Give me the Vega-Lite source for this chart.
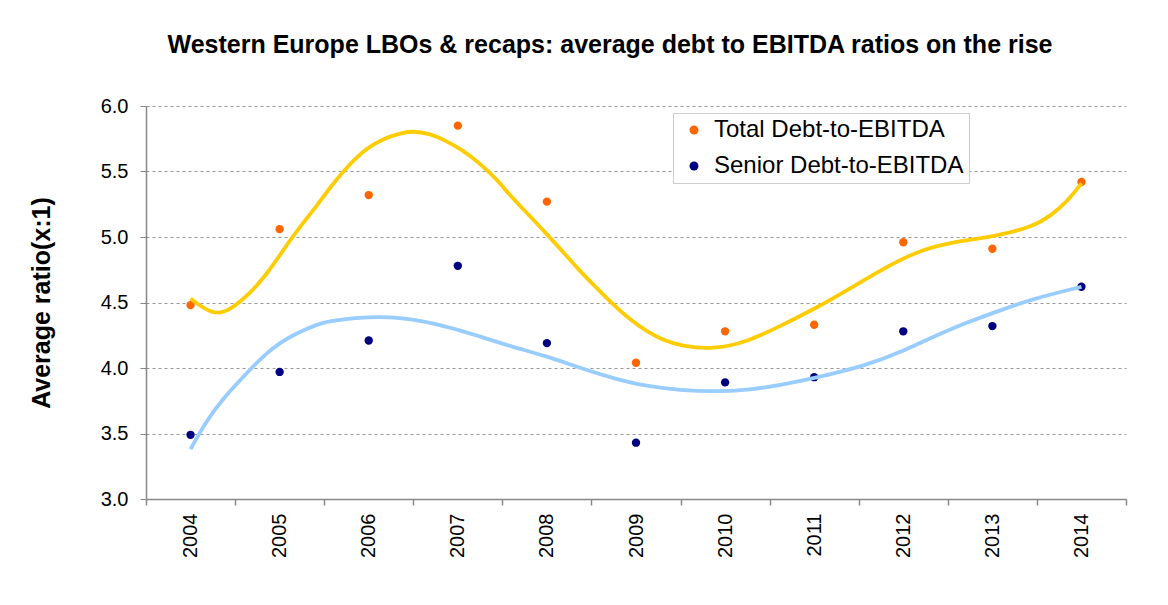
{
  "$schema": "https://vega.github.io/schema/vega-lite/v6.json",
  "autosize": {"type": "none"},
  "width": 980,
  "height": 393,
  "padding": {"left": 146, "top": 106, "right": 42, "bottom": 106},
  "background": "white",
  "config": {
    "view": {"stroke": null},
    "font": "Liberation Sans"
  },
  "title": {
    "text": "Western Europe LBOs & recaps: average debt to EBITDA ratios on the rise",
    "font": "Liberation Sans",
    "fontSize": 25,
    "fontWeight": "bold",
    "color": "#000000",
    "anchor": "middle",
    "dx": -26,
    "baseline": "alphabetic",
    "offset": 18
  },
  "datasets": {
    "points": [
      {"year": 2004, "series": "Total Debt-to-EBITDA", "value": 4.48},
      {"year": 2005, "series": "Total Debt-to-EBITDA", "value": 5.06},
      {"year": 2006, "series": "Total Debt-to-EBITDA", "value": 5.32},
      {"year": 2007, "series": "Total Debt-to-EBITDA", "value": 5.85},
      {"year": 2008, "series": "Total Debt-to-EBITDA", "value": 5.27},
      {"year": 2009, "series": "Total Debt-to-EBITDA", "value": 4.04},
      {"year": 2010, "series": "Total Debt-to-EBITDA", "value": 4.28},
      {"year": 2011, "series": "Total Debt-to-EBITDA", "value": 4.33},
      {"year": 2012, "series": "Total Debt-to-EBITDA", "value": 4.96},
      {"year": 2013, "series": "Total Debt-to-EBITDA", "value": 4.91},
      {"year": 2014, "series": "Total Debt-to-EBITDA", "value": 5.42},
      {"year": 2004, "series": "Senior Debt-to-EBITDA", "value": 3.49},
      {"year": 2005, "series": "Senior Debt-to-EBITDA", "value": 3.97},
      {"year": 2006, "series": "Senior Debt-to-EBITDA", "value": 4.21},
      {"year": 2007, "series": "Senior Debt-to-EBITDA", "value": 4.78},
      {"year": 2008, "series": "Senior Debt-to-EBITDA", "value": 4.19},
      {"year": 2009, "series": "Senior Debt-to-EBITDA", "value": 3.43},
      {"year": 2010, "series": "Senior Debt-to-EBITDA", "value": 3.89},
      {"year": 2011, "series": "Senior Debt-to-EBITDA", "value": 3.93},
      {"year": 2012, "series": "Senior Debt-to-EBITDA", "value": 4.28},
      {"year": 2013, "series": "Senior Debt-to-EBITDA", "value": 4.32},
      {"year": 2014, "series": "Senior Debt-to-EBITDA", "value": 4.62}
    ],
    "trendTotal": [
      {"x": 2004.0, "value": 4.53},
      {"x": 2004.26, "value": 4.40},
      {"x": 2004.44, "value": 4.44},
      {"x": 2004.67, "value": 4.57},
      {"x": 2004.86, "value": 4.72},
      {"x": 2005.04, "value": 4.90},
      {"x": 2005.23, "value": 5.08},
      {"x": 2005.42, "value": 5.24},
      {"x": 2005.60, "value": 5.41},
      {"x": 2005.79, "value": 5.56},
      {"x": 2005.98, "value": 5.68},
      {"x": 2006.16, "value": 5.75},
      {"x": 2006.35, "value": 5.79},
      {"x": 2006.48, "value": 5.81},
      {"x": 2006.69, "value": 5.79},
      {"x": 2006.88, "value": 5.73},
      {"x": 2007.06, "value": 5.66},
      {"x": 2007.25, "value": 5.56},
      {"x": 2007.44, "value": 5.44},
      {"x": 2007.62, "value": 5.29},
      {"x": 2007.81, "value": 5.16},
      {"x": 2008.00, "value": 5.02},
      {"x": 2008.19, "value": 4.88},
      {"x": 2008.37, "value": 4.74},
      {"x": 2008.56, "value": 4.61},
      {"x": 2008.75, "value": 4.48},
      {"x": 2008.93, "value": 4.37},
      {"x": 2009.12, "value": 4.28},
      {"x": 2009.31, "value": 4.21},
      {"x": 2009.50, "value": 4.17},
      {"x": 2009.87, "value": 4.14},
      {"x": 2010.25, "value": 4.20},
      {"x": 2010.62, "value": 4.32},
      {"x": 2011.03, "value": 4.46},
      {"x": 2011.41, "value": 4.61},
      {"x": 2011.78, "value": 4.76},
      {"x": 2012.15, "value": 4.89},
      {"x": 2012.53, "value": 4.96},
      {"x": 2013.01, "value": 5.00},
      {"x": 2013.46, "value": 5.08},
      {"x": 2013.65, "value": 5.16},
      {"x": 2013.84, "value": 5.27},
      {"x": 2014.0, "value": 5.41}
    ],
    "trendSenior": [
      {"x": 2004.0, "value": 3.38},
      {"x": 2004.18, "value": 3.60},
      {"x": 2004.37, "value": 3.77},
      {"x": 2004.56, "value": 3.91},
      {"x": 2004.74, "value": 4.04},
      {"x": 2004.93, "value": 4.16},
      {"x": 2005.12, "value": 4.24},
      {"x": 2005.30, "value": 4.30},
      {"x": 2005.49, "value": 4.35},
      {"x": 2005.68, "value": 4.37},
      {"x": 2005.98, "value": 4.39},
      {"x": 2006.35, "value": 4.39},
      {"x": 2006.88, "value": 4.32},
      {"x": 2007.25, "value": 4.24},
      {"x": 2007.62, "value": 4.16},
      {"x": 2008.0, "value": 4.09},
      {"x": 2008.37, "value": 4.00},
      {"x": 2008.75, "value": 3.92},
      {"x": 2009.12, "value": 3.86},
      {"x": 2009.5, "value": 3.83},
      {"x": 2009.87, "value": 3.82},
      {"x": 2010.25, "value": 3.83},
      {"x": 2010.62, "value": 3.87},
      {"x": 2010.99, "value": 3.92},
      {"x": 2011.59, "value": 4.02},
      {"x": 2011.97, "value": 4.12},
      {"x": 2012.34, "value": 4.24},
      {"x": 2012.72, "value": 4.35},
      {"x": 2013.09, "value": 4.44},
      {"x": 2013.46, "value": 4.53},
      {"x": 2014.0, "value": 4.62}
    ]
  },
  "layer": [
    {
      "data": {"name": "points"},
      "mark": {"type": "point", "filled": true, "opacity": 1, "size": 70},
      "encoding": {
        "x": {
          "field": "year", "type": "quantitative",
          "scale": {"domain": [2003.5, 2014.5], "nice": false, "zero": false},
          "axis": {
            "orient": "bottom",
            "values": [2004, 2005, 2006, 2007, 2008, 2009, 2010, 2011, 2012, 2013, 2014],
            "format": "d",
            "labelAngle": -90,
            "labelAlign": "right",
            "labelBaseline": "middle",
            "labelFontSize": 20,
            "labelColor": "#000000",
            "labelPadding": 14,
            "ticks": false,
            "domain": false,
            "grid": false,
            "title": null
          }
        },
        "y": {
          "field": "value", "type": "quantitative",
          "scale": {"domain": [3, 6], "nice": false, "zero": false},
          "axis": {
            "values": [3, 3.5, 4, 4.5, 5, 5.5, 6],
            "format": ".1f",
            "labelFontSize": 20,
            "labelColor": "#000000",
            "labelPadding": 12,
            "tickSize": 6,
            "tickColor": "#888888",
            "domainColor": "#888888",
            "domainWidth": 1.5,
            "grid": true,
            "gridColor": "#999999",
            "gridDash": [3, 3],
            "gridWidth": 1,
            "title": "Average ratio(x:1)",
            "titleFontSize": 25,
            "titleFontWeight": "bold",
            "titleColor": "#000000",
            "titlePadding": 46
          }
        },
        "color": {
          "field": "series", "type": "nominal",
          "scale": {"domain": ["Total Debt-to-EBITDA", "Senior Debt-to-EBITDA"], "range": ["#FF6600", "#000080"]},
          "legend": {
            "orient": "none",
            "legendX": 527,
            "legendY": 7,
            "title": null,
            "labelFontSize": 24,
            "labelColor": "#000000",
            "labelOffset": 8,
            "symbolType": "circle",
            "symbolSize": 80,
            "rowPadding": 12,
            "padding": 5,
            "symbolOffset": 4,
            "strokeColor": "#cccccc",
            "fillColor": "#ffffff",
            "labelLimit": 400
          }
        }
      }
    },
    {
      "data": {"name": "trendTotal"},
      "mark": {"type": "line", "color": "#FFCC00", "strokeWidth": 3.8, "interpolate": "basis"},
      "encoding": {
        "x": {
          "field": "x", "type": "quantitative",
          "axis": {
            "orient": "bottom",
            "values": [2003.5, 2004.5, 2005.5, 2006.5, 2007.5, 2008.5, 2009.5, 2010.5, 2011.5, 2012.5, 2013.5, 2014.5],
            "labels": false,
            "ticks": true,
            "tickSize": 6,
            "tickColor": "#888888",
            "tickWidth": 1.5,
            "domain": true,
            "domainColor": "#888888",
            "domainWidth": 1.5,
            "grid": false,
            "title": null
          }
        },
        "y": {"field": "value", "type": "quantitative"}
      }
    },
    {
      "data": {"name": "trendSenior"},
      "mark": {"type": "line", "color": "#99CCFF", "strokeWidth": 3.8, "interpolate": "basis"},
      "encoding": {
        "x": {"field": "x", "type": "quantitative", "axis": null},
        "y": {"field": "value", "type": "quantitative"}
      }
    }
  ],
  "resolve": {"axis": {"x": "independent"}, "scale": {"x": "shared", "y": "shared"}}
}
